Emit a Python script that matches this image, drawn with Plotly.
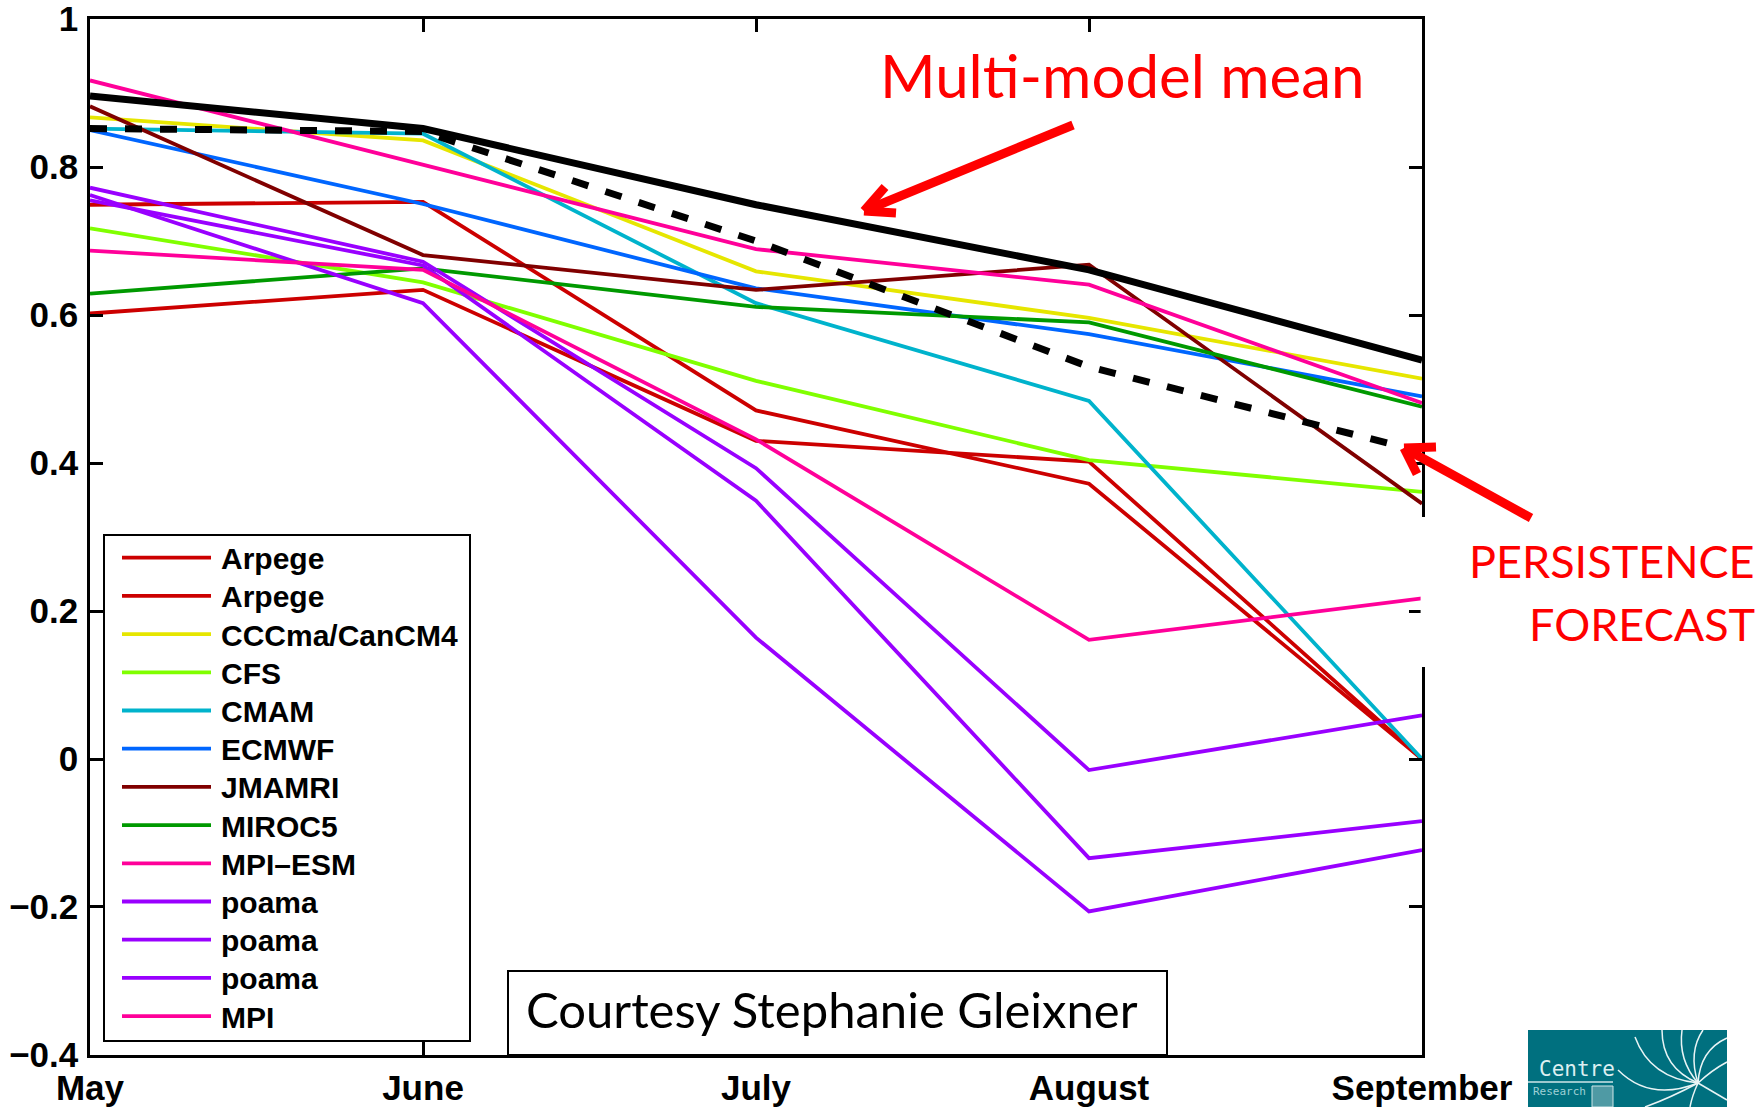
import plotly.graph_objects as go

# ---------------- data ----------------
months = ["May", "June", "July", "August", "September"]

model_names = ["Arpege", "Arpege", "CCCma/CanCM4", "CFS", "CMAM", "ECMWF", "JMAMRI",
               "MIROC5", "MPI\u2013ESM", "poama", "poama", "poama", "MPI"]
model_colors = ["#CC0000", "#CC0000", "#E6E600", "#80FF00", "#00B3CC", "#0066FF", "#800000",
                "#009900", "#FF0099", "#9900FF", "#9900FF", "#9900FF", "#FF0099"]

arpege1 = [0.749, 0.753, 0.471, 0.372, 0.0]
arpege2 = [0.602, 0.634, 0.430, 0.402, 0.0]
cccma = [0.867, 0.836, 0.659, 0.596, 0.514]
cfs = [0.717, 0.644, 0.511, 0.404, 0.361]
cmam = [0.852, 0.845, 0.616, 0.484, 0.0]
ecmwf = [0.850, 0.750, 0.636, 0.574, 0.490]
jmamri = [0.882, 0.681, 0.634, 0.668, 0.345]
miroc5 = [0.629, 0.663, 0.611, 0.590, 0.476]
mpi_esm = [0.917, 0.803, 0.689, 0.641, 0.481]
poama1 = [0.772, 0.672, 0.393, -0.015, 0.059]
poama2 = [0.755, 0.667, 0.349, -0.134, -0.084]
poama3 = [0.762, 0.616, 0.164, -0.206, -0.123]
mpi = [0.687, 0.661, 0.432, 0.161, 0.217]

multi_model_mean = [0.896, 0.852, 0.749, 0.661, 0.539]
persistence = [0.852, 0.848, 0.700, 0.530, 0.415]

model_values = [arpege1, arpege2, cccma, cfs, cmam, ecmwf, jmamri,
                miroc5, mpi_esm, poama1, poama2, poama3, mpi]

y_tickvals = [-0.4, -0.2, 0, 0.2, 0.4, 0.6, 0.8, 1.0]
y_ticktext = ["\u22120.4", "\u22120.2", "0", "0.2", "0.4", "0.6", "0.8", "1"]

# ---------------- geometry helpers (pixel -> paper) ----------------
W, H = 1760, 1107
L, R, T, B = 90, 1422, 19, 1055


def px(x):
    return (x - L) / (R - L)


def py(y):
    return (B - y) / (B - T)


fig = go.Figure()

for name, color, vals in zip(model_names, model_colors, model_values):
    fig.add_trace(go.Scatter(x=months, y=vals, mode="lines", name=name,
                             line=dict(color=color, width=3.8), showlegend=False))

fig.add_trace(go.Scatter(x=months, y=multi_model_mean, mode="lines", name="Multi-model mean",
                         line=dict(color="black", width=7), showlegend=False))
fig.add_trace(go.Scatter(x=months, y=persistence, mode="lines", name="Persistence forecast",
                         line=dict(color="black", width=7, dash="17px,18px"), showlegend=False))

shapes = []
annotations = []

# legend box
shapes.append(dict(type="rect", xref="paper", yref="paper", x0=px(104), x1=px(470),
                   y0=py(1041), y1=py(535), fillcolor="white", line=dict(color="black", width=2),
                   layer="above"))
row0, drow = 557.7, 38.2
for i, (name, color) in enumerate(zip(model_names, model_colors)):
    yy = row0 + i * drow
    shapes.append(dict(type="line", xref="paper", yref="paper", x0=px(122), x1=px(211),
                       y0=py(yy), y1=py(yy), line=dict(color=color, width=3.8), layer="above"))
    annotations.append(dict(text=name, xref="paper", yref="paper", x=px(219), y=py(yy + 1),
                            xanchor="left", yanchor="middle", showarrow=False,
                            font=dict(family="Liberation Sans", size=30, color="black", weight="bold")))

# Courtesy box
shapes.append(dict(type="rect", xref="paper", yref="paper", x0=px(508), x1=px(1167),
                   y0=py(1055), y1=py(971), fillcolor="white", line=dict(color="black", width=2),
                   layer="above"))
annotations.append(dict(text="Courtesy Stephanie Gleixner", xref="paper", yref="paper",
                        x=px(832), y=py(1009), xanchor="center", yanchor="middle", showarrow=False,
                        font=dict(family="Lato", size=49, color="black")))

# white patch that interrupts the right axis line
shapes.append(dict(type="rect", xref="paper", yref="paper", x0=px(1420.6), x1=px(1440),
                   y0=py(667), y1=py(517), fillcolor="white", line=dict(width=0), layer="above"))

# red labels
annotations.append(dict(text="Multi-model mean", xref="paper", yref="paper",
                        x=px(1122), y=py(75), xanchor="center", yanchor="middle", showarrow=False,
                        font=dict(family="Lato", size=60, color="#FF0000")))
annotations.append(dict(text="PERSISTENCE", xref="paper", yref="paper",
                        x=px(1757), y=py(561), xanchor="right", yanchor="middle", showarrow=False,
                        font=dict(family="Lato", size=45, color="#FF0000")))
annotations.append(dict(text="FORECAST", xref="paper", yref="paper",
                        x=px(1757), y=py(624), xanchor="right", yanchor="middle", showarrow=False,
                        font=dict(family="Lato", size=45, color="#FF0000")))


def red_arrow(tail, tip, arm1, arm2):
    for (a, b) in [(tail, tip), (arm1, tip), (arm2, tip)]:
        shapes.append(dict(type="line", xref="paper", yref="paper",
                           x0=px(a[0]), y0=py(a[1]), x1=px(b[0]), y1=py(b[1]),
                           line=dict(color="#FF0000", width=9), layer="above"))


red_arrow((1073, 125), (864, 211), (885, 187), (896, 213))
red_arrow((1531, 518), (1404, 448), (1436, 447), (1417, 474))

# logo (bottom right)
teal = "#00707F"
shapes.append(dict(type="rect", xref="paper", yref="paper", x0=px(1528), x1=px(1727),
                   y0=py(1107), y1=py(1030), fillcolor=teal, line=dict(width=0), layer="above"))
shapes.append(dict(type="line", xref="paper", yref="paper", x0=px(1528), x1=px(1613),
                   y0=py(1082), y1=py(1082), line=dict(color="#CFE6E8", width=1.5), layer="above"))
shapes.append(dict(type="rect", xref="paper", yref="paper", x0=px(1592), x1=px(1613),
                   y0=py(1107), y1=py(1086), fillcolor="#4F9AA4", line=dict(color="#CFE6E8", width=1),
                   layer="above"))
cx, cy = 1698, 1083
swirl = [((1635, 1037), (1650, 1078)), ((1662, 1030), (1662, 1068)), ((1682, 1030), (1678, 1060)),
         ((1703, 1030), (1688, 1052)), ((1727, 1038), (1700, 1050)), ((1727, 1062), (1712, 1070)),
         ((1618, 1070), (1650, 1102)), ((1645, 1107), (1670, 1098)), ((1690, 1107), (1692, 1096)),
         ((1727, 1100), (1710, 1090))]
for (sx, sy), (qx, qy) in swirl:
    path = "M{:.5f},{:.5f} Q{:.5f},{:.5f} {:.5f},{:.5f}".format(px(sx), py(sy), px(qx), py(qy), px(cx), py(cy))
    shapes.append(dict(type="path", xref="paper", yref="paper", path=path,
                       line=dict(color="#E8F4F5", width=1.5), layer="above"))
annotations.append(dict(text="Centre", xref="paper", yref="paper", x=px(1577), y=py(1069),
                        xanchor="center", yanchor="middle", showarrow=False,
                        font=dict(family="DejaVu Sans Mono", size=21, color="#DDEFF1")))
annotations.append(dict(text="Research", xref="paper", yref="paper", x=px(1531), y=py(1091),
                        xanchor="left", yanchor="middle", showarrow=False,
                        font=dict(family="DejaVu Sans Mono", size=11, color="#9FD0D6")))

tickfont = dict(family="Liberation Sans", size=35, color="black", weight="bold")

fig.update_layout(
    template="none",
    width=W, height=H,
    margin=dict(l=L, r=W - R, t=T, b=H - B, pad=0, autoexpand=False),
    paper_bgcolor="white", plot_bgcolor="white",
    showlegend=False,
    shapes=shapes, annotations=annotations,
    xaxis=dict(type="category", categoryorder="array", categoryarray=months,
               range=[0, 4], showgrid=False, zeroline=False, automargin=False,
               showline=True, linecolor="black", linewidth=2.5, mirror="ticks",
               ticks="inside", ticklen=13, tickwidth=2.5, tickcolor="black",
               tickfont=tickfont, ticklabelstandoff=0, ticklabeloverflow="allow"),
    yaxis=dict(range=[-0.40001, 1.00001], tickvals=y_tickvals, ticktext=y_ticktext,
               showgrid=False, zeroline=False, automargin=False,
               showline=True, linecolor="black", linewidth=2.5, mirror="ticks",
               ticks="inside", ticklen=13, tickwidth=2.5, tickcolor="black",
               tickfont=tickfont, ticklabelstandoff=2, ticklabeloverflow="allow"),
)

fig.write_html("out.html")
